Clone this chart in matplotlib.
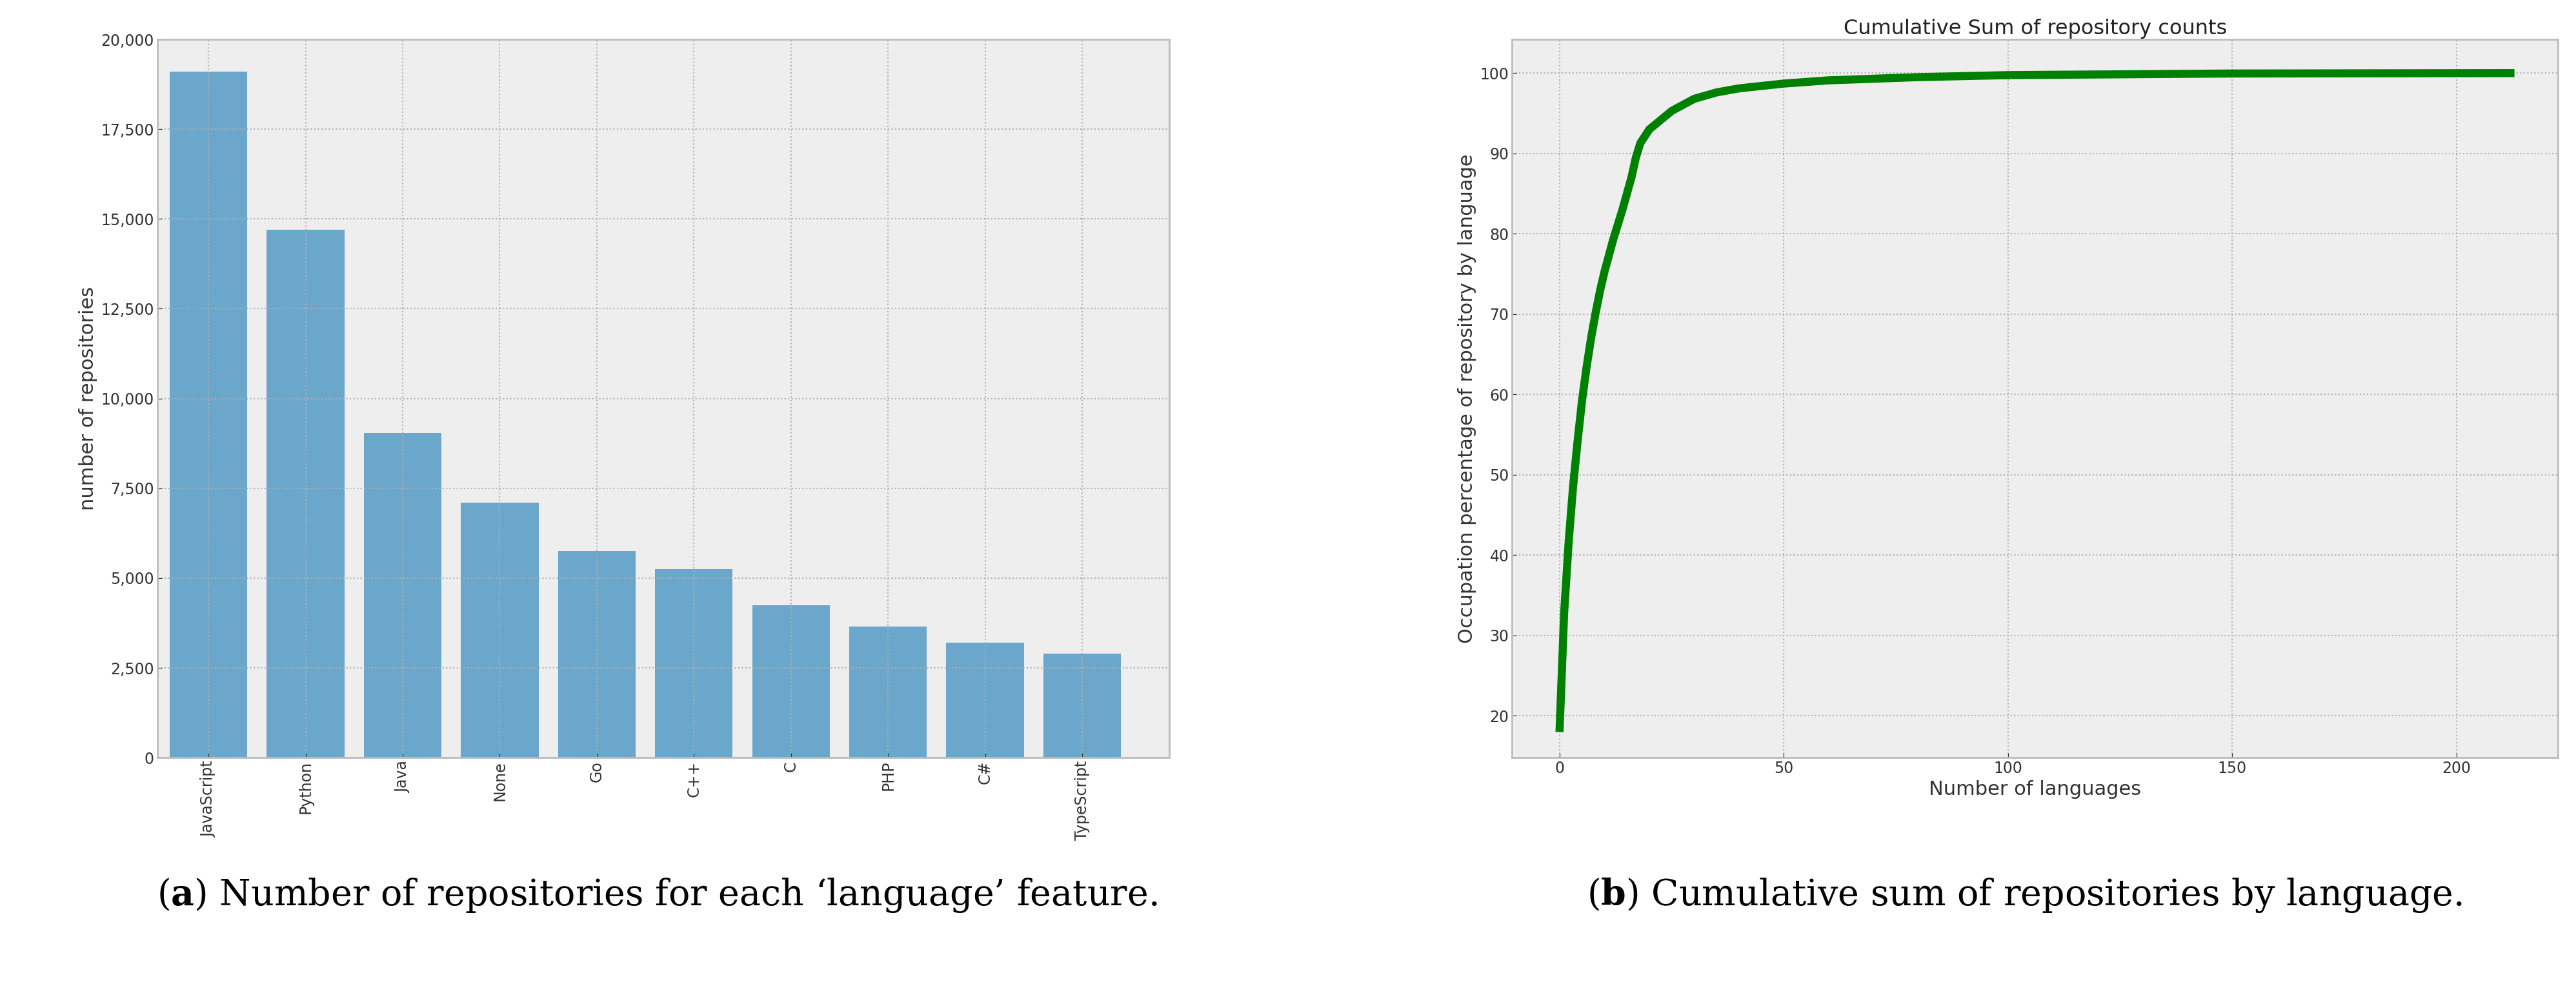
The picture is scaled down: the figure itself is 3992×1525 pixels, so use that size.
import matplotlib
matplotlib.use("Agg")
import matplotlib.pyplot as plt
from matplotlib.ticker import FuncFormatter

languages = ["JavaScript", "Python", "Java", "None", "Go", "C++", "C", "PHP", "C#", "TypeScript"]
repo_counts = [19100, 14700, 9050, 7100, 5750, 5250, 4250, 3650, 3200, 2900]

cum_x = [0, 1, 2, 3, 4, 5, 6, 7, 8, 9, 10, 12, 14, 16, 17, 18, 20, 25, 30, 35, 40, 50, 60, 80, 100, 150, 212]
cum_y = [18.5, 32.8, 41.6, 48.6, 54.2, 59.3, 63.4, 67.0, 70.1, 72.9, 75.3, 79.4, 83.0, 87.0, 89.5, 91.3, 93.0,
         95.3, 96.8, 97.6, 98.1, 98.7, 99.1, 99.5, 99.75, 99.95, 100.0]

plt.style.use("bmh")
plt.rcParams["font.family"] = ["DejaVu Sans"]
fig = plt.figure(figsize=(39.92, 15.25), dpi=100)
fig.patch.set_facecolor("white")

def style(ax):
    ax.set_facecolor("#eeeeee")
    for s in ax.spines.values():
        s.set_color("#bcbcbc"); s.set_linewidth(2)
    ax.grid(True, linestyle=":", color="#b0b0b0", linewidth=1.5)
    ax.tick_params(labelsize=17, colors="#333333", length=5)

ax1 = fig.add_axes([0.061, 0.23, 0.393, 0.73])
style(ax1)
ax1.bar(range(len(languages)), repo_counts, width=0.8, color="#348ABD", alpha=0.7)
ax1.set_xticks(range(len(languages)))
ax1.set_xticklabels(languages, rotation=90)
ax1.set_xlim(-0.53, 9.9)
ax1.set_ylim(0, 20000)
ax1.set_yticks(range(0, 20001, 2500))
ax1.yaxis.set_major_formatter(FuncFormatter(lambda v, p: f"{int(v):,}"))
ax1.set_ylabel("number of repositories", fontsize=22, color="#333333")

ax2 = fig.add_axes([0.587, 0.23, 0.406, 0.73])
style(ax2)
ax2.plot(cum_x, cum_y, color="green", linewidth=9)
ax2.set_xlim(-10.6, 222.6)
ax2.set_ylim(14.8, 104.2)
ax2.set_yticks(range(20, 101, 10))
ax2.set_xticks([0, 50, 100, 150, 200])
ax2.set_title("Cumulative Sum of repository counts", fontsize=23, color="#222222")
ax2.set_xlabel("Number of languages", fontsize=22, color="#333333")
ax2.set_ylabel("Occupation percentage of repository by language", fontsize=22, color="#333333")

fig.text(0.255, 0.09, r"($\mathbf{a}$) Number of repositories for each ‘language’ feature.",
         ha="center", va="center", fontsize=40, family="serif", math_fontfamily="dejavuserif")
fig.text(0.786, 0.09, r"($\mathbf{b}$) Cumulative sum of repositories by language.",
         ha="center", va="center", fontsize=40, family="serif", math_fontfamily="dejavuserif")

fig.savefig("out.png", dpi=100)
